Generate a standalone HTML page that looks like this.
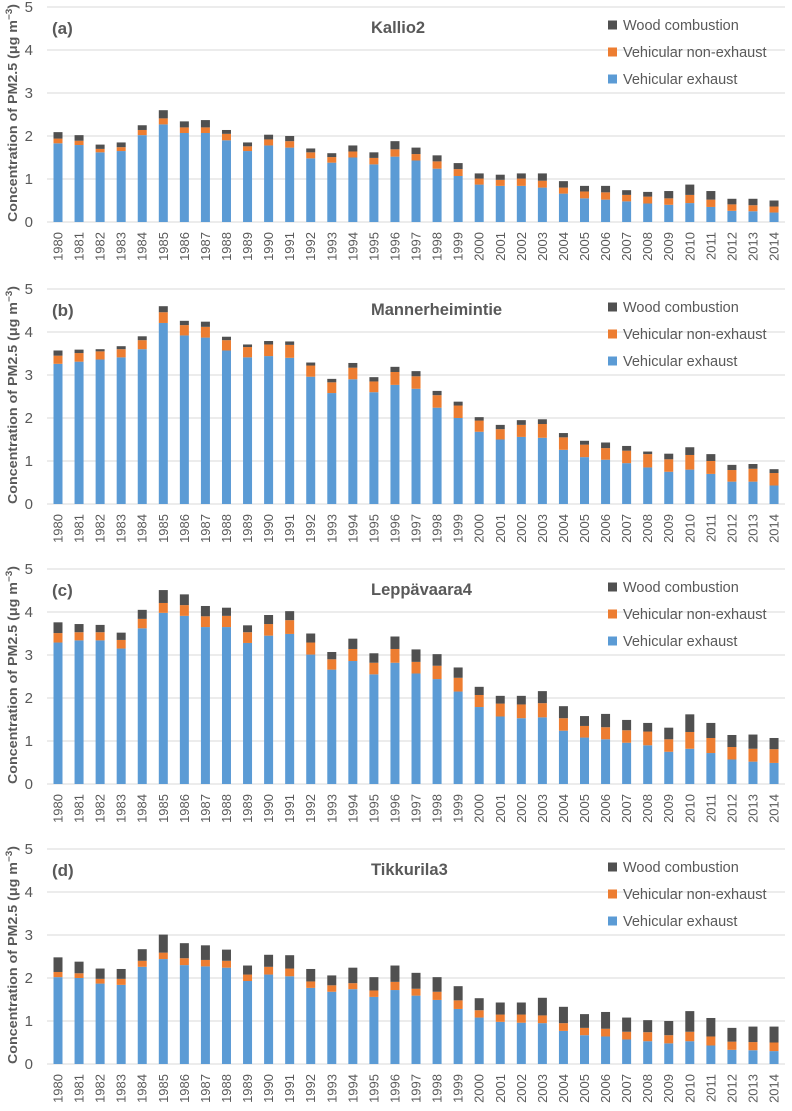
<!DOCTYPE html>
<html><head><meta charset="utf-8"><title>PM2.5 source contributions</title>
<style>
html,body{margin:0;padding:0;background:#fff;}
svg{display:block;font-family:"Liberation Sans",sans-serif;}
</style></head>
<body>
<svg id="chart" width="792" height="1111" viewBox="0 0 792 1111" xmlns="http://www.w3.org/2000/svg"></svg>
<script>
const years = [1980,1981,1982,1983,1984,1985,1986,1987,1988,1989,1990,1991,1992,1993,1994,1995,1996,1997,1998,1999,2000,2001,2002,2003,2004,2005,2006,2007,2008,2009,2010,2011,2012,2013,2014];
const yTicks = [0,1,2,3,4,5];
const panelLabels = ["(a)","(b)","(c)","(d)"];
const siteNames = ["Kallio2","Mannerheimintie","Leppävaara4","Tikkurila3"];
const legendLabels = ["Wood combustion","Vehicular non-exhaust","Vehicular exhaust"];
// cumulative stack tops: exhaust, exhaust+non-exhaust, total
const aExhaust = [1.83,1.79,1.62,1.65,2.02,2.27,2.07,2.07,1.90,1.65,1.78,1.73,1.48,1.38,1.50,1.34,1.52,1.43,1.24,1.07,0.87,0.84,0.84,0.80,0.66,0.55,0.52,0.48,0.43,0.40,0.44,0.35,0.26,0.25,0.22];
const aNonExhaustTop = [1.94,1.89,1.70,1.74,2.14,2.41,2.20,2.20,2.05,1.76,1.92,1.88,1.62,1.51,1.64,1.49,1.69,1.58,1.41,1.23,1.01,0.98,1.01,0.96,0.80,0.71,0.69,0.63,0.59,0.55,0.63,0.52,0.41,0.39,0.36];
const aTotal = [2.09,2.02,1.80,1.85,2.25,2.60,2.34,2.37,2.14,1.85,2.03,2.00,1.71,1.60,1.78,1.62,1.88,1.73,1.55,1.37,1.13,1.10,1.13,1.13,0.95,0.84,0.84,0.74,0.70,0.72,0.87,0.72,0.54,0.54,0.50];
const bExhaust = [3.26,3.31,3.36,3.41,3.60,4.21,3.92,3.87,3.57,3.41,3.44,3.40,2.96,2.58,2.90,2.60,2.77,2.68,2.24,2.00,1.68,1.50,1.56,1.54,1.26,1.09,1.03,0.95,0.85,0.75,0.80,0.70,0.52,0.52,0.43];
const bNonExhaustTop = [3.45,3.51,3.55,3.60,3.81,4.46,4.16,4.12,3.81,3.65,3.71,3.70,3.22,2.83,3.17,2.85,3.07,2.97,2.53,2.29,1.94,1.74,1.84,1.86,1.55,1.38,1.30,1.24,1.16,1.04,1.14,1.00,0.79,0.82,0.72];
const bTotal = [3.57,3.59,3.60,3.67,3.90,4.60,4.26,4.24,3.89,3.71,3.79,3.78,3.29,2.91,3.28,2.95,3.19,3.09,2.63,2.38,2.02,1.84,1.95,1.97,1.65,1.47,1.43,1.35,1.22,1.17,1.32,1.16,0.91,0.93,0.81];
const cExhaust = [3.29,3.34,3.34,3.15,3.62,3.98,3.91,3.65,3.65,3.28,3.45,3.49,3.01,2.66,2.86,2.55,2.82,2.57,2.44,2.15,1.79,1.57,1.53,1.55,1.24,1.08,1.04,0.96,0.90,0.75,0.82,0.72,0.57,0.52,0.49];
const cNonExhaustTop = [3.51,3.53,3.53,3.35,3.84,4.21,4.16,3.90,3.91,3.53,3.72,3.81,3.29,2.90,3.14,2.82,3.14,2.84,2.75,2.47,2.07,1.87,1.85,1.88,1.53,1.35,1.32,1.25,1.22,1.04,1.21,1.07,0.86,0.82,0.81];
const cTotal = [3.76,3.72,3.70,3.52,4.05,4.51,4.41,4.14,4.10,3.69,3.93,4.02,3.50,3.07,3.38,3.04,3.43,3.13,3.02,2.71,2.26,2.05,2.05,2.16,1.81,1.58,1.63,1.49,1.42,1.31,1.62,1.42,1.14,1.15,1.07];
const dExhaust = [2.02,2.00,1.87,1.84,2.26,2.44,2.30,2.27,2.24,1.93,2.08,2.04,1.77,1.68,1.74,1.56,1.72,1.59,1.49,1.28,1.08,0.98,0.96,0.95,0.77,0.67,0.64,0.57,0.53,0.48,0.53,0.43,0.33,0.32,0.30];
const dNonExhaustTop = [2.14,2.11,1.98,1.98,2.40,2.59,2.46,2.42,2.40,2.08,2.26,2.22,1.92,1.83,1.88,1.71,1.91,1.75,1.68,1.48,1.25,1.15,1.15,1.13,0.95,0.84,0.82,0.75,0.74,0.67,0.75,0.64,0.52,0.51,0.50];
const dTotal = [2.48,2.38,2.22,2.21,2.67,3.01,2.81,2.76,2.66,2.29,2.54,2.53,2.21,2.06,2.24,2.02,2.29,2.12,2.02,1.81,1.53,1.43,1.43,1.54,1.33,1.16,1.21,1.08,1.02,1.00,1.23,1.07,0.84,0.87,0.87];

const exhaustSets = [aExhaust,bExhaust,cExhaust,dExhaust];
const nonTopSets = [aNonExhaustTop,bNonExhaustTop,cNonExhaustTop,dNonExhaustTop];
const totalSets = [aTotal,bTotal,cTotal,dTotal];

const NS = "http://www.w3.org/2000/svg";
const svg = document.getElementById("chart");
const C_BLUE="#5b9bd5", C_ORANGE="#ed7d31", C_WOOD="#505050", C_TXT="#595959";
const zeros = [222,504,784,1064];
const unit = 43;
const x0 = 58, step = 21.06, barW = 9;
function mk(tag, attrs, parent){ const e=document.createElementNS(NS,tag); for(const k in attrs) e.setAttribute(k,attrs[k]); (parent||svg).appendChild(e); return e; }

for (let p=0;p<4;p++){
  const zero = zeros[p];
  const yS = v => zero - v*unit;
  const xS = i => x0 + i*step;
  const g = mk("g",{});
  
  
  yTicks.forEach(t=>{
    const ln = mk("line",{x1:47,x2:785,y1:yS(t),y2:yS(t),stroke:"#d9d9d9","stroke-width":1},g);
    
    
    const tx = mk("text",{x:33,y:yS(t)+5,"text-anchor":"end","font-size":15,fill:C_TXT},g);
    tx.textContent = t;
    
    
  });
  const title = mk("text",{transform:`translate(17,${zero-109}) rotate(-90)`,"text-anchor":"middle","font-size":13,"font-weight":"bold",fill:C_TXT,textLength:218,lengthAdjust:"spacingAndGlyphs"},g);
  title.innerHTML = 'Concentration of PM2.5 (μg m<tspan dy="-5" font-size="9">−3</tspan><tspan dy="5">)</tspan>';
  
  
  const pl = mk("text",{x:52,y:zero-188,"font-size":17,"font-weight":"bold",fill:C_TXT},g);
  pl.textContent = panelLabels[p];
  
  
  const st = mk("text",{x:371,y:zero-189,"font-size":16.5,"font-weight":"bold",fill:C_TXT},g);
  st.textContent = siteNames[p];
  
  
  const lc = [C_WOOD,C_ORANGE,C_BLUE];
  legendLabels.forEach((lab,k)=>{
    const cy = zero-197+k*27;
    const sq = mk("rect",{x:608,y:cy-4.5,width:9,height:9,fill:lc[k]},g);
    
    
    const lt = mk("text",{x:623,y:cy+5,"font-size":14.5,fill:C_TXT},g);
    lt.textContent = lab;
    
    
  });
  const ex = exhaustSets[p], nt = nonTopSets[p], tt = totalSets[p];
  years.forEach((yr,i)=>{
    const cx = xS(i), bx = cx - barW/2;
    const r1 = mk("rect",{x:bx,y:yS(ex[i]),width:barW,height:yS(0)-yS(ex[i]),fill:C_BLUE},g);
    
    
    const r2 = mk("rect",{x:bx,y:yS(nt[i]),width:barW,height:Math.max(0,yS(ex[i])-yS(nt[i])),fill:C_ORANGE},g);
    
    
    const r3 = mk("rect",{x:bx,y:yS(tt[i]),width:barW,height:Math.max(0,yS(nt[i])-yS(tt[i])),fill:C_WOOD},g);
    
    
    const xl = mk("text",{transform:`translate(${cx+4.5},${zero+10}) rotate(-90)`,"text-anchor":"end","font-size":13,fill:C_TXT},g);
    xl.textContent = yr;
    
    
  });
}
</script>
</body></html>
